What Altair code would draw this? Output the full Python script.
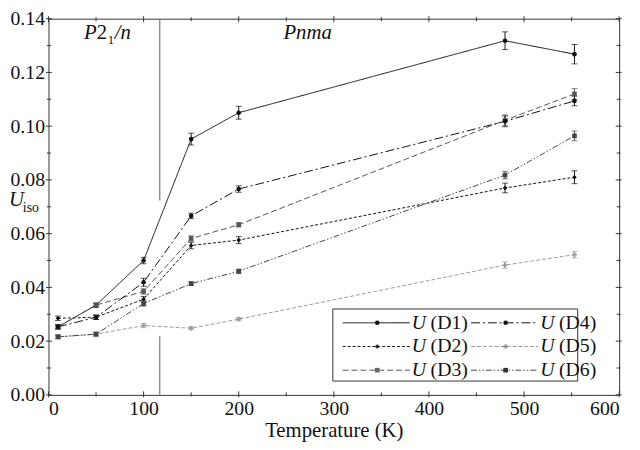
import altair as alt
import pandas as pd

# ---------------- data ----------------
temps = [10, 50, 100, 150, 200, 480, 553]
series = ["D1", "D2", "D3", "D4", "D5", "D6"]
u_D1 = [0.0253, 0.0334, 0.0500, 0.0952, 0.1050, 0.1318, 0.1268]
u_D2 = [0.0285, 0.0289, 0.0356, 0.0556, 0.0576, 0.0770, 0.0810]
u_D3 = [0.0253, 0.0334, 0.0385, 0.0582, 0.0633, 0.1022, 0.1120]
u_D4 = [0.0253, 0.0289, 0.0419, 0.0666, 0.0766, 0.1018, 0.1094]
u_D5 = [0.0216, 0.0226, 0.0258, 0.0248, 0.0282, 0.0483, 0.0522]
u_D6 = [0.0216, 0.0226, 0.0340, 0.0414, 0.0460, 0.0818, 0.0964]
e_D1 = [0.0008, 0.0008, 0.0012, 0.0022, 0.0024, 0.0033, 0.0036]
e_D2 = [0.0008, 0.0008, 0.0010, 0.0012, 0.0013, 0.0018, 0.0024]
e_D3 = [0.0007, 0.0007, 0.0010, 0.0010, 0.0008, 0.0020, 0.0020]
e_D4 = [0.0007, 0.0008, 0.0015, 0.0010, 0.0012, 0.0020, 0.0018]
e_D5 = [0.0006, 0.0007, 0.0008, 0.0006, 0.0006, 0.0012, 0.0012]
e_D6 = [0.0007, 0.0007, 0.0010, 0.0007, 0.0008, 0.0014, 0.0018]
values = {"D1": u_D1, "D2": u_D2, "D3": u_D3, "D4": u_D4, "D5": u_D5, "D6": u_D6}
errors = {"D1": e_D1, "D2": e_D2, "D3": e_D3, "D4": e_D4, "D5": e_D5, "D6": e_D6}

boundary_T = [117]
boundary_upper = [0.0723, 0.14]
boundary_lower = [0.0, 0.0218]

x_major = [0, 100, 200, 300, 400, 500, 600]
x_minor = [50, 150, 250, 350, 450, 550]
y_major = [0.0, 0.02, 0.04, 0.06, 0.08, 0.10, 0.12, 0.14]
y_minor = [0.01, 0.03, 0.05, 0.07, 0.09, 0.11, 0.13]

# ---------------- styles ----------------
line_colors = ["#111111", "#111111", "#555555", "#111111", "#9a9a9a", "#444444"]
mark_colors = ["#111111", "#111111", "#666666", "#111111", "#8f8f8f", "#333333"]
dashes = [[1, 0], [3, 2], [6, 3], [9, 3, 2, 3], [4, 2], [6, 2, 1.5, 2, 1.5, 2]]
shapes = ["circle", "diamond", "square", "circle", "cross", "square"]
FONT = "Liberation Serif, Times New Roman, DejaVu Serif, serif"

W, H = 578, 381

rows = []
for s in series:
    for t, u, e in zip(temps, values[s], errors[s]):
        rows.append({"series": s, "T": t, "U": u, "lo": u - e, "hi": u + e})
df = pd.DataFrame(rows)

xs = alt.Scale(domain=[0, 600], nice=False, zero=False)
ys = alt.Scale(domain=[0, 0.14], nice=False, zero=False)

col_line = alt.Color("series:N", scale=alt.Scale(domain=series, range=line_colors), legend=None)
col_mark = alt.Color("series:N", scale=alt.Scale(domain=series, range=mark_colors), legend=None)

base = alt.Chart(df)

lines = base.mark_line(strokeWidth=1).encode(
    x=alt.X("T:Q", scale=xs, title="Temperature (K)",
            axis=alt.Axis(values=x_major, ticks=False, domain=False, grid=False,
                          labelFont=FONT, labelFontSize=20, labelColor="#111",
                          labelPadding=4, titleFont=FONT, titleFontSize=21,
                          titleFontWeight="normal", titleColor="#111", titlePadding=1)),
    y=alt.Y("U:Q", scale=ys, title=None,
            axis=alt.Axis(values=y_major, format=".2f", ticks=False, domain=False, grid=False,
                          labelFont=FONT, labelFontSize=20, labelColor="#111", labelPadding=4)),
    color=col_line,
    strokeDash=alt.StrokeDash("series:N", scale=alt.Scale(domain=series, range=dashes), legend=None),
    detail="series:N",
)

errbars = base.mark_rule(strokeWidth=1).encode(
    x=alt.X("T:Q", scale=xs), y=alt.Y("lo:Q", scale=ys), y2="hi:Q", color=col_mark)
caps_lo = base.mark_tick(thickness=1, size=6, orient="horizontal").encode(
    x=alt.X("T:Q", scale=xs), y=alt.Y("lo:Q", scale=ys), color=col_mark)
caps_hi = base.mark_tick(thickness=1, size=6, orient="horizontal").encode(
    x=alt.X("T:Q", scale=xs), y=alt.Y("hi:Q", scale=ys), color=col_mark)

points = base.mark_point(filled=True, size=22, opacity=1).encode(
    x=alt.X("T:Q", scale=xs), y=alt.Y("U:Q", scale=ys),
    color=col_mark,
    shape=alt.Shape("series:N", scale=alt.Scale(domain=series, range=shapes), legend=None),
)

# phase boundary
bdf = pd.DataFrame({
    "T": boundary_T * 2,
    "y1": [boundary_upper[0], boundary_lower[0]],
    "y2": [boundary_upper[1], boundary_lower[1]],
})
boundary = alt.Chart(bdf).mark_rule(color="#777777", strokeWidth=1.2).encode(
    x=alt.X("T:Q", scale=xs), y=alt.Y("y1:Q", scale=ys), y2="y2:Q")

# crossing ticks on all four sides
def xticks(vals, half):
    d = alt.Chart(pd.DataFrame({"T": vals}))
    bot = d.mark_rule(color="#333", strokeWidth=1).encode(
        x=alt.X("T:Q", scale=xs), y=alt.value(H - half - 1), y2=alt.value(H + half))
    top = d.mark_rule(color="#333", strokeWidth=1).encode(
        x=alt.X("T:Q", scale=xs), y=alt.value(-half), y2=alt.value(half + 1))
    return [bot, top]

def yticks(vals, half):
    d = alt.Chart(pd.DataFrame({"U": vals}))
    left = d.mark_rule(color="#333", strokeWidth=1).encode(
        y=alt.Y("U:Q", scale=ys), x=alt.value(-half), x2=alt.value(half + 1))
    right = d.mark_rule(color="#333", strokeWidth=1).encode(
        y=alt.Y("U:Q", scale=ys), x=alt.value(W - half - 1), x2=alt.value(W + half))
    return [left, right]

tick_layers = xticks(x_major, 2.5) + xticks(x_minor, 1.5) + yticks(y_major, 2.5) + yticks(y_minor, 1.5)

def txt(text, x, y, size=20, style="normal", color="#111"):
    return alt.Chart(pd.DataFrame({"t": [text]})).mark_text(
        font=FONT, fontSize=size, fontStyle=style, color=color,
        align="left", baseline="alphabetic").encode(
        text="t:N", x=alt.value(x), y=alt.value(y))

ann = [
    txt("P", 36, 21, size=21, style="italic"),
    txt("2", 49, 21, size=21),
    txt("1", 60, 26, size=13),
    txt("/", 67, 21, size=21, style="italic"),
    txt("n", 73, 21, size=21, style="italic"),
    txt("Pnma", 238, 21, size=21, style="italic"),
    txt("U", -40, 190, size=21, style="italic"),
    txt("iso", -26, 196, size=14),
]

# custom legend
box = alt.Chart(pd.DataFrame({"a": [0]})).mark_rect(
    fill="white", stroke="#333", strokeWidth=1).encode(
    x=alt.value(288), x2=alt.value(536), y=alt.value(294), y2=alt.value(367))
leg = [box]
row_y = [308, 332, 356]
for i, s in enumerate(series):
    c, r = divmod(i, 3)
    x0 = 298 + c * 130
    y0 = row_y[r]
    leg.append(alt.Chart(pd.DataFrame({"a": [0]})).mark_rule(
        color=line_colors[i], strokeWidth=1, strokeDash=dashes[i]).encode(
        x=alt.value(x0), x2=alt.value(x0 + 68), y=alt.value(y0), y2=alt.value(y0)))
    leg.append(alt.Chart(pd.DataFrame({"a": [0]})).mark_point(
        filled=True, size=22, opacity=1, color=mark_colors[i], shape=shapes[i]).encode(
        x=alt.value(x0 + 35), y=alt.value(y0)))
    leg.append(txt("U", x0 + 70, y0 + 6, size=20, style="italic"))
    leg.append(txt("(" + s + ")", x0 + 89, y0 + 6, size=20))

chart = alt.layer(
    boundary, lines, errbars, caps_lo, caps_hi, points, *tick_layers, *ann, *leg
).properties(
    width=W, height=H,
    autosize=alt.AutoSizeParams(type="none"),
    padding={"left": 41, "top": 8, "right": 13, "bottom": 53},
).configure_view(stroke="#333", strokeWidth=1)

chart.save("out.html", embed_options={"renderer": "svg", "actions": False})
